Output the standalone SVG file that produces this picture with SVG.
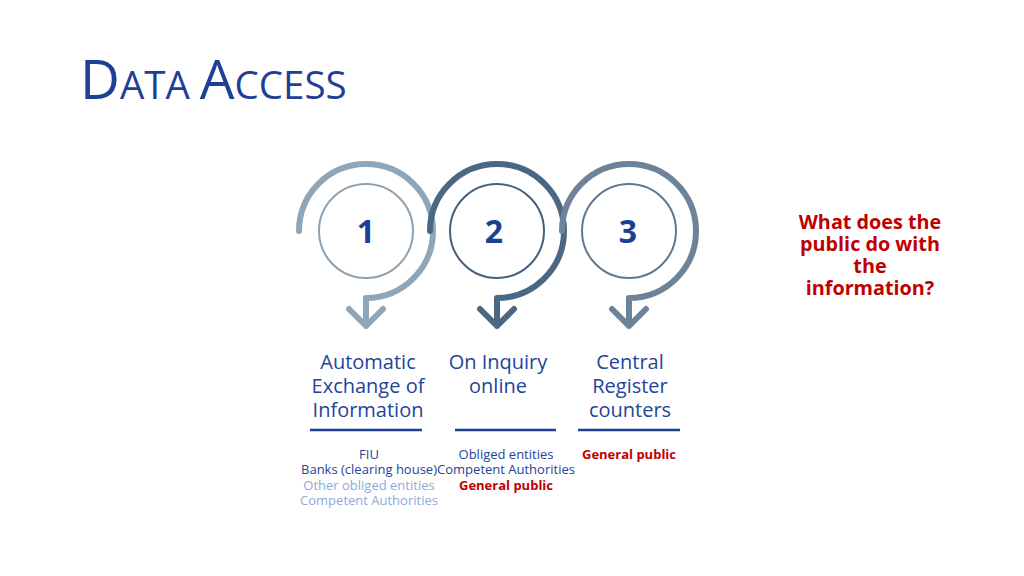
<svg xmlns="http://www.w3.org/2000/svg" width="1024" height="576" viewBox="0 0 1024 576">
<style>
text{font-family:"Open Sans","Noto Sans","Liberation Sans",sans-serif}
.title{fill:#1E3F94}
.num{font-size:32px;font-weight:bold;fill:#1B3F94;text-anchor:middle}
.lbl{font-size:20px;fill:#24449A;text-anchor:middle}
.sm{font-size:13px;fill:#24449A;text-anchor:middle}
.lt{fill:#8EA9DB}
.red{fill:#C00000;font-weight:bold}
.q{font-size:19.8px;font-weight:bold;fill:#C00000;text-anchor:middle}
.arc{fill:none;stroke-width:6;stroke-linecap:round;stroke-linejoin:round}
.inner{fill:none;stroke-width:2}
.rule{stroke:#1E3F94;stroke-width:2.5}
</style>
<rect width="1024" height="576" fill="#ffffff"/>
<text class="title" x="80" y="99"><tspan font-size="55">D</tspan><tspan font-size="38.5">ATA </tspan><tspan font-size="55">A</tspan><tspan font-size="38.5">CCESS</tspan></text>

<g id="connectors">
<path class="arc" stroke="#8FA5B8" d="M 299 231 A 67 67 0 1 1 366 298 L 366 326 M 349 309 L 366 326 L 383 309"/>
<path class="arc" stroke="#4A6783" d="M 430 231 A 67 67 0 1 1 497 298 L 497 326 M 480 309 L 497 326 L 514 309"/>
<path class="arc" stroke="#6C8399" d="M 562 231 A 67 67 0 1 1 629 298 L 629 326 M 612 309 L 629 326 L 646 309"/>
</g>

<g id="node1">
<circle class="inner" cx="366" cy="231" r="47" stroke="#8DA1B2"/>
<text class="num" x="366" y="243">1</text>
<text class="lbl" x="368" y="369">Automatic</text>
<text class="lbl" x="368" y="393">Exchange of</text>
<text class="lbl" x="368" y="417">Information</text>
<line class="rule" x1="310" y1="430" x2="422" y2="430"/>
<text class="sm" x="369" y="459">FIU</text>
<text class="sm" x="369" y="474">Banks (clearing house)</text>
<text class="sm lt" x="369" y="490">Other obliged entities</text>
<text class="sm lt" x="369" y="505">Competent Authorities</text>
</g>

<g id="node2">
<circle class="inner" cx="497" cy="231" r="47" stroke="#44607C"/>
<text class="num" x="494" y="243">2</text>
<text class="lbl" x="498" y="369">On Inquiry</text>
<text class="lbl" x="498" y="393">online</text>
<line class="rule" x1="455" y1="430" x2="556" y2="430"/>
<text class="sm" x="506" y="459">Obliged entities</text>
<text class="sm" x="506" y="474">Competent Authorities</text>
<text class="sm red" x="506" y="490">General public</text>
</g>

<g id="node3">
<circle class="inner" cx="629" cy="231" r="47" stroke="#5F7891"/>
<text class="num" x="628" y="243">3</text>
<text class="lbl" x="630" y="369">Central</text>
<text class="lbl" x="630" y="393">Register</text>
<text class="lbl" x="630" y="417">counters</text>
<line class="rule" x1="578" y1="430" x2="680" y2="430"/>
<text class="sm red" x="629" y="459">General public</text>
</g>

<g id="question">
<text class="q" x="870" y="229">What does the</text>
<text class="q" x="870" y="251">public do with</text>
<text class="q" x="870" y="273">the</text>
<text class="q" x="870" y="295">information?</text>
</g>
</svg>
